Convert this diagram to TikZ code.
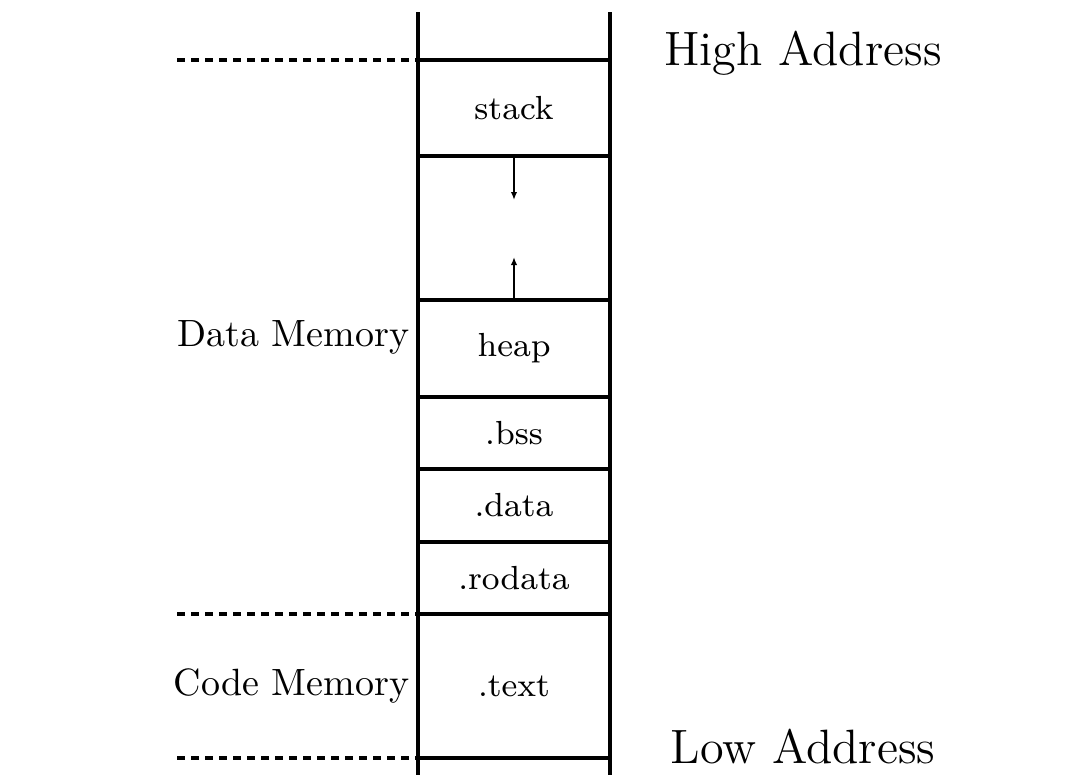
\documentclass[tikz,border=0pt]{standalone}
\usepackage{tikz}
\usetikzlibrary{positioning,arrows.meta,calc}
\tikzset{
  seg/.style    = {draw, thick, outer sep=0pt, inner sep=0pt, minimum width=48pt,
                   font=\fontsize{8.35}{10}\selectfont},
  wall/.style   = {thick},
  bound/.style  = {thick, dash pattern=on 1.9pt off 1.6pt},
  growth/.style = {-{Latex[length=2pt,width=1.6pt]}, semithick},
  region/.style = {font=\fontsize{9.5}{12}\selectfont, inner sep=2pt},
  addr/.style   = {font=\fontsize{12.05}{14}\selectfont, inner sep=0pt},
}

\begin{document}
\begin{tikzpicture}[x=0.25pt, y=-0.25pt, node distance=0pt]
\useasboundingbox (0,0) rectangle (1080,775);

% memory segments, top to bottom
\node[seg, minimum height=24pt] (stack) at (514,108) {stack};
\node[seg, minimum height=36pt, below=of stack] (free) {};
\node[seg, minimum height=24.25pt, below=of free] (heap) {heap};
\node[seg, minimum height=18pt, below=of heap] (bss) {.bss};
\node[seg, minimum height=18.25pt, below=of bss] (data) {.data};
\node[seg, minimum height=18pt, below=of data] (rodata) {.rodata};
\node[seg, minimum height=36pt, below=of rodata] (text) {.text};

% side walls
\coordinate (top) at (514,12);
\coordinate (bottom) at (514,775);
\draw[wall] (stack.west |- top) -- (text.west |- bottom);
\draw[wall] (stack.east |- top) -- (text.east |- bottom);

% growth arrows
\coordinate (stacktip) at ($(free.north)+(0,44)$);
\coordinate (heaptip) at ($(free.south)+(0,-43)$);
\draw[growth] (free.north) -- (stacktip);
\draw[growth] (free.south) -- (heaptip);

% region boundaries
\coordinate (lft) at (177,0);
\draw[bound] (lft |- stack.north west) -- (stack.north west);
\draw[bound] (lft |- text.north west) -- (text.north west);
\draw[bound] (lft |- text.south west) -- (text.south west);

\node[region, anchor=east] (datamem) at ($(stack.north west)!0.5!(rodata.south west)$) {Data Memory};
\node[region, left=of text] (codemem) {Code Memory};

\node[addr, anchor=base] (high) at ($(stack.north east)+(193,5)$) {High Address};
\node[addr, anchor=base] (low) at ($(text.south east)+(193,5)$) {Low Address};

\end{tikzpicture}
\end{document}
